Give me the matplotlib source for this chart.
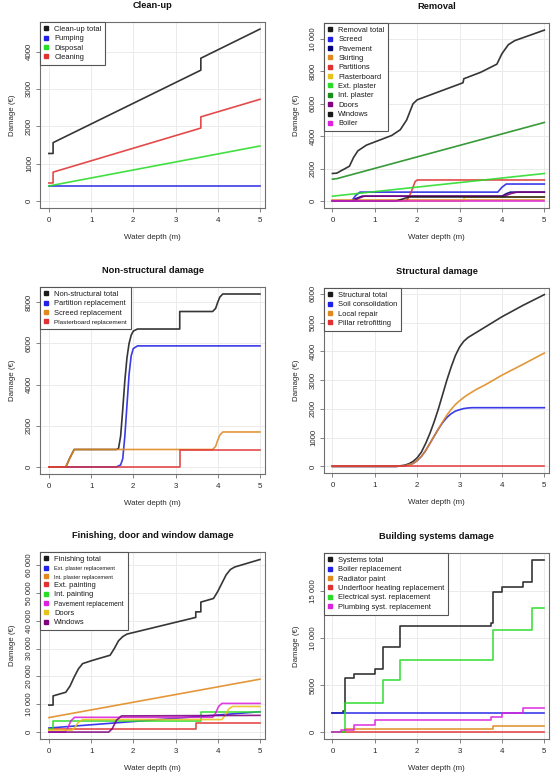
import matplotlib
matplotlib.use('Agg')
import matplotlib.pyplot as plt
from matplotlib.lines import Line2D

plt.rcParams['font.family'] = ['Liberation Sans', 'DejaVu Sans']

W, H = 555, 774

# ---------------- colours ----------------
C_BLACK = '#1a1a1a'
C_BLUE = '#2020e6'
C_NAVY = '#00007a'
C_ORANGE = '#e0891e'
C_RED = '#e03232'
C_GOLD = '#e6c21a'
C_LGREEN = '#28dc28'
C_DGREEN = '#1c8c1c'
C_PURPLE = '#800080'
C_MAGENTA = '#dc22dc'

xticks = [0, 1, 2, 3, 4, 5]

# ---------------- Clean-up ----------------
cu_total_x = [0, 0.1, 0.1, 3.6, 3.6, 5]
cu_total_y = [1270, 1270, 1560, 3500, 3820, 4600]
cu_pump_x = [0, 5]
cu_pump_y = [400, 400]
cu_disp_x = [0, 5]
cu_disp_y = [400, 1470]
cu_clean_x = [0, 0.1, 0.1, 3.6, 3.6, 5]
cu_clean_y = [480, 480, 770, 1950, 2250, 2720]
cu_yticks = [0, 1000, 2000, 3000, 4000]
cu_yticklabels = ['0', '1000', '2000', '3000', '4000']

# ---------------- Removal ----------------
rm_total_x = [0, 0.1, 0.4, 0.5, 0.6, 0.8, 1.0, 1.4, 1.6, 1.75, 1.9, 2.0, 3.08, 3.1, 3.5, 3.88, 4.0, 4.15, 4.3, 5.0]
rm_total_y = [1700, 1720, 2150, 2700, 3100, 3450, 3650, 4050, 4400, 5000, 6000, 6250, 7300, 7550, 7950, 8450, 9100, 9650, 9900, 10550]
rm_screed_x = [0, 0.45, 0.55, 0.65, 3.9, 4.0, 4.1, 5]
rm_screed_y = [0, 0, 350, 550, 550, 850, 1050, 1050]
rm_pave_x = [0, 0.45, 0.55, 0.7, 4.0, 4.1, 4.2, 5]
rm_pave_y = [0, 0, 150, 300, 300, 450, 550, 550]
rm_skirt_x = [0, 5]
rm_skirt_y = [40, 40]
rm_part_x = [0, 1.75, 1.85, 1.95, 2.0, 5]
rm_part_y = [0, 0, 500, 1200, 1300, 1300]
rm_board_x = [0, 3.1, 3.1, 5]
rm_board_y = [0, 0, 230, 230]
rm_ext_x = [0, 5]
rm_ext_y = [300, 1700]
rm_int_x = [0, 0.1, 5]
rm_int_y = [1350, 1380, 4850]
rm_door_x = [0, 0.5, 0.6, 0.75, 4.05, 4.2, 4.35, 5]
rm_door_y = [0, 0, 150, 300, 300, 450, 550, 550]
rm_wind_x = [0, 1.5, 1.65, 1.8, 5]
rm_wind_y = [0, 0, 120, 250, 250]
rm_boil_x = [0, 5]
rm_boil_y = [30, 30]
rm_yticks = [0, 2000, 4000, 6000, 8000, 10000]
rm_yticklabels = ['0', '2000', '4000', '6000', '8000', '10 000']

# ---------------- Non-structural ----------------
ns_total_x = [0, 0.4, 0.5, 0.6, 1.6, 1.65, 1.7, 1.75, 1.8, 1.85, 1.9, 1.95, 2.0, 2.1, 3.1, 3.1, 3.88, 3.95, 4.0, 4.05, 4.12, 5]
ns_total_y = [0, 0, 450, 850, 850, 900, 1500, 2800, 4200, 5300, 6000, 6400, 6600, 6700, 6700, 7550, 7550, 7700, 8000, 8250, 8400, 8400]
ns_part_x = [0, 1.6, 1.7, 1.75, 1.8, 1.85, 1.9, 1.95, 2.0, 2.1, 5]
ns_part_y = [0, 0, 100, 400, 1500, 3000, 4500, 5400, 5750, 5880, 5880]
ns_screed_x = [0, 0.4, 0.5, 0.6, 3.88, 3.95, 4.0, 4.05, 4.12, 5]
ns_screed_y = [0, 0, 450, 850, 850, 1000, 1300, 1550, 1700, 1700]
ns_board_x = [0, 3.1, 3.1, 5]
ns_board_y = [0, 0, 830, 830]
ns_yticks = [0, 2000, 4000, 6000, 8000]
ns_yticklabels = ['0', '2000', '4000', '6000', '8000']

# ---------------- Structural ----------------
st_total_x = [0, 1.5, 1.7, 1.8, 1.9, 2.0, 2.1, 2.2, 2.3, 2.4, 2.5, 2.6, 2.7, 2.8, 2.9, 3.0, 3.1, 3.2, 3.3, 3.5, 4.0, 4.5, 5]
st_total_y = [0, 0, 40, 90, 170, 300, 500, 800, 1150, 1550, 2000, 2500, 3000, 3450, 3850, 4150, 4350, 4480, 4570, 4750, 5200, 5600, 5970]
st_soil_x = [0, 1.5, 1.7, 1.9, 2.0, 2.1, 2.2, 2.3, 2.4, 2.5, 2.6, 2.7, 2.8, 2.9, 3.0, 3.1, 3.2, 3.3, 3.4, 5]
st_soil_y = [0, 0, 20, 100, 200, 350, 550, 800, 1050, 1300, 1520, 1700, 1830, 1920, 1970, 2010, 2030, 2040, 2040, 2040]
st_local_x = [0, 1.5, 1.7, 1.9, 2.0, 2.1, 2.2, 2.3, 2.4, 2.5, 2.6, 2.7, 2.8, 2.9, 3.0, 3.1, 3.2, 3.4, 3.6, 4.0, 4.5, 5]
st_local_y = [0, 0, 20, 100, 200, 350, 550, 800, 1050, 1300, 1550, 1780, 1980, 2150, 2280, 2400, 2500, 2680, 2830, 3170, 3550, 3940]
st_pillar_x = [0, 5]
st_pillar_y = [0, 0]
st_yticks = [0, 1000, 2000, 3000, 4000, 5000, 6000]
st_yticklabels = ['0', '1000', '2000', '3000', '4000', '5000', '6000']

# ---------------- Finishing ----------------
fi_total_x = [0, 0.1, 0.1, 0.4, 0.5, 0.6, 0.7, 0.8, 1.0, 1.2, 1.45, 1.55, 1.65, 1.75, 1.85, 3.48, 3.48, 3.6, 3.6, 3.9, 4.0, 4.1, 4.2, 4.3, 4.4, 5.0]
fi_total_y = [9700, 9700, 13000, 14300, 16500, 19800, 22700, 24600, 25600, 26500, 27600, 30000, 32800, 34300, 35200, 41200, 43200, 43200, 46700, 48000, 50500, 53500, 56500, 58400, 59300, 62000]
fi_extpl_x = [0, 5]
fi_extpl_y = [1450, 7300]
fi_intpl_x = [0, 5]
fi_intpl_y = [5200, 19000]
fi_extpa_x = [0, 3.48, 3.48, 5]
fi_extpa_y = [1200, 1200, 3300, 3300]
fi_intpa_x = [0, 0.1, 0.1, 3.6, 3.6, 5]
fi_intpa_y = [1000, 1000, 4000, 4000, 7200, 7200]
fi_pave_x = [0, 0.38, 0.45, 0.52, 0.61, 3.88, 3.95, 4.02, 4.1, 5]
fi_pave_y = [0, 0, 1500, 4000, 5300, 5300, 6800, 9200, 10300, 10300]
fi_door_x = [0, 0.55, 0.62, 0.7, 0.8, 4.1, 4.18, 4.26, 4.35, 5]
fi_door_y = [700, 700, 1800, 3500, 4500, 4500, 6200, 8300, 9200, 9200]
fi_wind_x = [0, 1.42, 1.5, 1.6, 1.72, 5]
fi_wind_y = [0, 0, 1200, 4200, 5800, 6000]
fi_yticks = [0, 10000, 20000, 30000, 40000, 50000, 60000]
fi_yticklabels = ['0', '10 000', '20 000', '30 000', '40 000', '50 000', '60 000']

# ---------------- Building systems ----------------
bs_total_x = [0, 0.25, 0.25, 0.3, 0.3, 0.5, 0.5, 1.0, 1.0, 1.2, 1.2, 1.6, 1.6, 3.75, 3.75, 3.8, 3.8, 4.0, 4.0, 4.5, 4.5, 4.7, 4.7, 5]
bs_total_y = [2000, 2000, 2200, 2200, 5700, 5700, 6200, 6200, 6700, 6700, 9000, 9000, 11300, 11300, 11600, 11600, 14900, 14900, 15400, 15400, 16000, 16000, 18300, 18300]
bs_boil_x = [0, 5]
bs_boil_y = [2000, 2000]
bs_rad_x = [0, 0.3, 0.3, 3.8, 3.8, 5]
bs_rad_y = [0, 0, 300, 300, 600, 600]
bs_floor_x = [0, 5]
bs_floor_y = [0, 0]
bs_elec_x = [0, 0.3, 0.3, 1.2, 1.2, 1.6, 1.6, 3.8, 3.8, 4.7, 4.7, 5]
bs_elec_y = [0, 0, 3100, 3100, 5500, 5500, 7700, 7700, 10800, 10800, 13200, 13200]
bs_plumb_x = [0, 0.2, 0.2, 0.5, 0.5, 1.0, 1.0, 3.75, 3.75, 4.0, 4.0, 4.5, 4.5, 5]
bs_plumb_y = [0, 0, 200, 200, 800, 800, 1300, 1300, 1600, 1600, 2050, 2050, 2600, 2600]
bs_yticks = [0, 5000, 10000, 15000]
bs_yticklabels = ['0', '5000', '10 000', '15 000']

fig = plt.figure(figsize=(W / 100, H / 100), dpi=100)

GRID = '#ebebeb'
SPINE = '#6e6e6e'
FS_TICK = 5.7
FS_LEG = 5.4


def panel(rect, xlim, title, ylim, yticks, yticklabels, series, small=None):
    l, t, r, b = rect
    ax = fig.add_axes([l / W, 1 - b / H, (r - l) / W, (b - t) / H])
    ax.set_xlim(*xlim)
    ax.set_ylim(*ylim)
    ax.set_xticks(xticks)
    ax.set_xticklabels([str(v) for v in xticks])
    ax.set_yticks(yticks)
    ax.set_yticklabels(yticklabels, rotation=90, va='center')
    ax.grid(True, color=GRID, lw=0.7)
    ax.set_axisbelow(True)
    for s in ax.spines.values():
        s.set_color(SPINE)
        s.set_linewidth(0.8)
    ax.tick_params(axis='both', length=3.2, width=0.6, color=SPINE,
                   labelsize=FS_TICK, labelcolor='#2a2a2a')
    ax.tick_params(axis='x', pad=3.2)
    ax.tick_params(axis='y', pad=1.8)
    ax.set_title(title, fontsize=6.7, fontweight='bold', pad=10, color='#111111')
    ax.set_xlabel('Water depth (m)', fontsize=FS_TICK, labelpad=7.5, color='#2a2a2a')
    ax.set_ylabel('Damage (€)', fontsize=FS_TICK, labelpad=7.0, color='#2a2a2a')
    handles = []
    labels = []
    for lab, col, xs, ys in series:
        ax.plot(xs, ys, color=col, lw=1.2, solid_joinstyle='round', alpha=0.88)
        handles.append(Line2D([], [], ls='none', marker='s', color=col, markersize=3.0))
        labels.append(lab)
    leg = ax.legend(handles, labels, loc='upper left', bbox_to_anchor=(0, 1),
                    borderaxespad=0, frameon=True, fancybox=False, framealpha=1,
                    edgecolor='#555555', fontsize=FS_LEG, handlelength=0.7,
                    handletextpad=0.7, labelspacing=0.28, borderpad=0.5)
    leg.get_frame().set_linewidth(0.8)
    for txt in leg.get_texts():
        txt.set_color('#1a1a1a')
    if small:
        for i, sz in small.items():
            leg.get_texts()[i].set_fontsize(sz)
    return ax


panel((40, 22, 265, 208), (-0.21, 5.12), 'Clean-up', (-190, 4790),
      cu_yticks, cu_yticklabels,
      [('Clean-up total', C_BLACK, cu_total_x, cu_total_y),
       ('Pumping', C_BLUE, cu_pump_x, cu_pump_y),
       ('Disposal', C_LGREEN, cu_disp_x, cu_disp_y),
       ('Cleaning', C_RED, cu_clean_x, cu_clean_y)])

panel((324, 23, 549, 208), (-0.2, 5.11), 'Removal', (-430, 10990),
      rm_yticks, rm_yticklabels,
      [('Removal total', C_BLACK, rm_total_x, rm_total_y),
       ('Screed', C_BLUE, rm_screed_x, rm_screed_y),
       ('Pavement', C_NAVY, rm_pave_x, rm_pave_y),
       ('Skirting', C_ORANGE, rm_skirt_x, rm_skirt_y),
       ('Partitions', C_RED, rm_part_x, rm_part_y),
       ('Plasterboard', C_GOLD, rm_board_x, rm_board_y),
       ('Ext. plaster', C_LGREEN, rm_ext_x, rm_ext_y),
       ('Int. plaster', C_DGREEN, rm_int_x, rm_int_y),
       ('Doors', C_PURPLE, rm_door_x, rm_door_y),
       ('Windows', C_BLACK, rm_wind_x, rm_wind_y),
       ('Boiler', C_MAGENTA, rm_boil_x, rm_boil_y)])

panel((40, 287, 265, 474), (-0.21, 5.12), 'Non-structural damage', (-340, 8740),
      ns_yticks, ns_yticklabels,
      [('Non-structural total', C_BLACK, ns_total_x, ns_total_y),
       ('Partition replacement', C_BLUE, ns_part_x, ns_part_y),
       ('Screed replacement', C_ORANGE, ns_screed_x, ns_screed_y),
       ('Plasterboard replacement', C_RED, ns_board_x, ns_board_y)],
      small={3: 4.6})

panel((324, 288, 549, 473), (-0.2, 5.11), 'Structural damage', (-230, 6200),
      st_yticks, st_yticklabels,
      [('Structural total', C_BLACK, st_total_x, st_total_y),
       ('Soil consolidation', C_BLUE, st_soil_x, st_soil_y),
       ('Local repair', C_ORANGE, st_local_x, st_local_y),
       ('Pillar retrofitting', C_RED, st_pillar_x, st_pillar_y)])

panel((40, 552, 265, 739), (-0.21, 5.12), 'Finishing, door and window damage', (-2490, 64700),
      fi_yticks, fi_yticklabels,
      [('Finishing total', C_BLACK, fi_total_x, fi_total_y),
       ('Ext. plaster replacement', C_BLUE, fi_extpl_x, fi_extpl_y),
       ('Int. plaster replacement', C_ORANGE, fi_intpl_x, fi_intpl_y),
       ('Ext. painting', C_RED, fi_extpa_x, fi_extpa_y),
       ('Int. painting', C_LGREEN, fi_intpa_x, fi_intpa_y),
       ('Pavement replacement', C_MAGENTA, fi_pave_x, fi_pave_y),
       ('Doors', C_GOLD, fi_door_x, fi_door_y),
       ('Windows', C_PURPLE, fi_wind_x, fi_wind_y)],
      small={1: 4.1, 2: 4.1, 5: 4.9})

panel((324, 553, 549, 739), (-0.2, 5.11), 'Building systems damage', (-732, 19030),
      bs_yticks, bs_yticklabels,
      [('Systems total', C_BLACK, bs_total_x, bs_total_y),
       ('Boiler replacement', C_BLUE, bs_boil_x, bs_boil_y),
       ('Radiator paint', C_ORANGE, bs_rad_x, bs_rad_y),
       ('Underfloor heating replacement', C_RED, bs_floor_x, bs_floor_y),
       ('Electrical syst. replacement', C_LGREEN, bs_elec_x, bs_elec_y),
       ('Plumbing syst. replacement', C_MAGENTA, bs_plumb_x, bs_plumb_y)])

fig.savefig('out.png', dpi=100)
